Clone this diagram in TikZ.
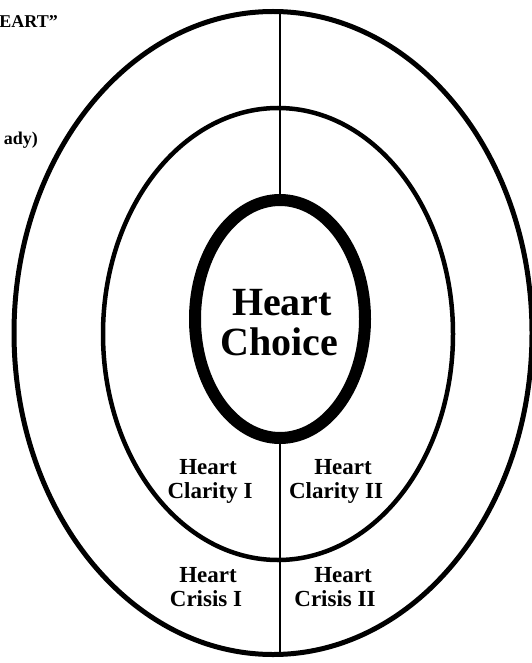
\documentclass[tikz,border=0pt]{standalone}
\usepackage{fontspec}
\setmainfont{Liberation Serif}
\usetikzlibrary{shapes.geometric}
\begin{document}
\begin{tikzpicture}[x=1pt,y=-1pt,
  ring/.style={draw=black,ellipse,outer sep=0pt,inner sep=0pt},
  vline/.style={draw=black,line width=2pt},
  bigtxt/.style={font=\fontsize{40}{41}\selectfont\bfseries,inner sep=0pt,anchor=base},
  smalltxt/.style={font=\fontsize{23}{24}\selectfont\bfseries,inner sep=0pt,anchor=base},
  cornertxt/.style={font=\fontsize{18}{20}\selectfont\bfseries,inner sep=0pt,anchor=base east}]
\useasboundingbox (0,0) rectangle (531,663);
\fill[white] (0,0) rectangle (531,663);
% rings
\node[ring,line width=5pt,minimum width=518pt,minimum height=643pt] (outer) at (273,333) {};
\node[ring,line width=4.5pt,minimum width=350pt,minimum height=452pt] (middle) at (278,334) {};
\node[ring,line width=12pt,minimum width=170pt,minimum height=238pt] (choice) at (280,319) {};
% dividing line
\draw[vline] (choice.north |- outer.north) -- (choice.north);
\draw[vline] (choice.south) -- (choice.south |- outer.south);
% centre text
\node[bigtxt] (choiceA) at (282,315) {Heart};
\node[bigtxt] (choiceB) at (279,355) {Choice};
% quadrant labels
\node[smalltxt] (clar1a) at (208,474) {Heart};
\node[smalltxt] (clar1b) at (210,498) {Clarity I};
\node[smalltxt] (clar2a) at (343,474) {Heart};
\node[smalltxt] (clar2b) at (336,498) {Clarity II};
\node[smalltxt] (cris1a) at (208,582) {Heart};
\node[smalltxt] (cris1b) at (206,606) {Crisis I};
\node[smalltxt] (cris2a) at (343,582) {Heart};
\node[smalltxt] (cris2b) at (335,606) {Crisis II};
% cut-off corner texts
\node[cornertxt] (title) at (58,28) {EART”};
\node[cornertxt,font=\fontsize{18}{20}\selectfont\bfseries] (study) at (38,145) {ady)};
\end{tikzpicture}
\end{document}
